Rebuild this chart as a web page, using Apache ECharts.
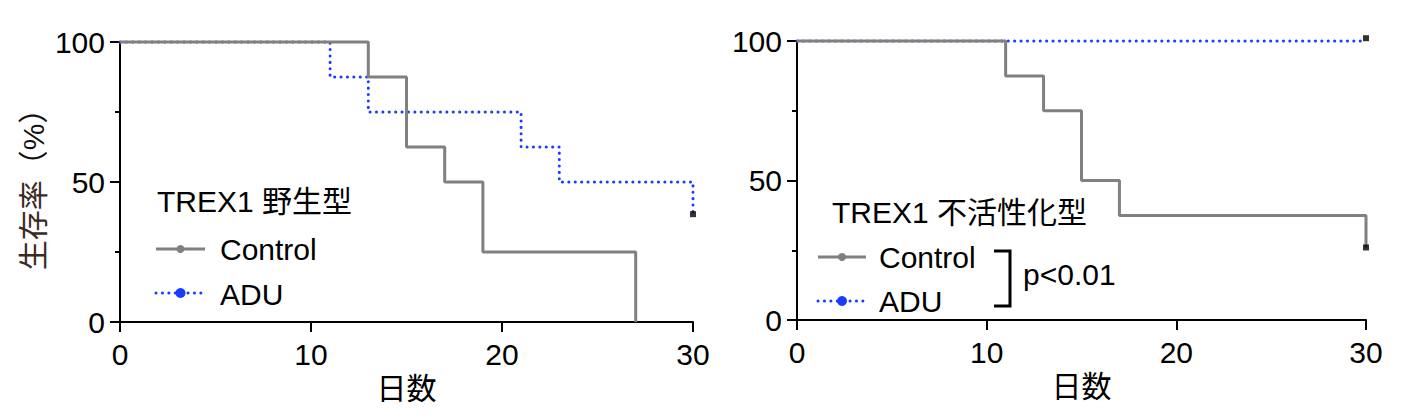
<!DOCTYPE html>
<html>
<head>
<meta charset="utf-8">
<script src="https://cdn.jsdelivr.net/npm/echarts@6/dist/echarts.min.js"></script>
<style>
html,body{margin:0;padding:0;background:#fff;}
#chart{width:1413px;height:418px;}
</style>
</head>
<body>
<div id="chart"></div>
<script>
// ---- data ----
const xTickValues = [0, 10, 20, 30];
const yTickValues = [0, 50, 100];

// Left panel: TREX1 野生型
const wtControlDays = [0, 13, 15, 17, 19, 27];
const wtControlSurv = [100, 87.5, 62.5, 50, 25, 0];
const wtAduDays = [0, 11, 13, 21, 23, 30];
const wtAduSurv = [100, 87.5, 75, 62.5, 50, 38];
const wtCensorDays = [30];
const wtCensorSurv = [38.5];

// Right panel: TREX1 不活性化型
const koControlDays = [0, 11, 13, 15, 17, 30];
const koControlSurv = [100, 87.5, 75, 50, 37.5, 26];
const koAduDays = [0, 30];
const koAduSurv = [100, 100];
const koCensorDays = [30, 30];
const koCensorSurv = [101, 26];

const leftTitle = 'TREX1 野生型';
const rightTitle = 'TREX1 不活性化型';
const groupNames = ['Control', 'ADU'];
const pText = 'p<0.01';
const xName = '日数';
const yNameMain = '生存率';
const yNameUnit = '（%）';

// ---- styles ----
const FONT = '"Liberation Sans","Noto Sans CJK JP",Arial,sans-serif';
const FS = 30;
const GRAY = '#808080';
const BLUE = '#1a3cff';
const DOTS = [0.1, 6.3];

function zip(xs, ys) { return xs.map((x, i) => [x, ys[i]]); }

function xAxisCfg(gridIndex) {
  return {
    gridIndex, type: 'value', min: 0, max: 30, interval: 10,
    name: xName, nameLocation: 'middle', nameGap: 46,
    nameTextStyle: { fontFamily: FONT, fontSize: FS, color: '#000' },
    axisLine: { show: true, lineStyle: { color: '#000', width: 2 } },
    axisTick: { show: true, length: 10, lineStyle: { color: '#000', width: 2 } },
    axisLabel: { fontFamily: FONT, fontSize: FS, color: '#000', margin: 17,
      formatter: v => xTickValues.includes(v) ? String(v) : '' },
    splitLine: { show: false }
  };
}
function yAxisCfg(gridIndex, withName) {
  return {
    gridIndex, type: 'value', min: 0, max: 100, interval: 50,
    name: withName ? '{a|' + yNameMain + '}{b|' + yNameUnit + '}' : '',
    nameLocation: 'middle', nameGap: 72, nameRotate: 90,
    nameTextStyle: { fontFamily: FONT, fontSize: FS, color: '#3b2a22',
      rich: {
        a: { fontFamily: FONT, fontSize: FS, color: '#3b2a22' },
        b: { fontFamily: FONT, fontSize: FS, color: '#111' }
      } },
    axisLine: { show: true, lineStyle: { color: '#000', width: 2 } },
    axisTick: { show: true, length: 10, lineStyle: { color: '#000', width: 2 } },
    minorTick: { show: true, splitNumber: 2, length: 5, lineStyle: { color: '#000', width: 2 } },
    axisLabel: { fontFamily: FONT, fontSize: FS, color: '#000', margin: 15,
      formatter: v => yTickValues.includes(v) ? String(v) : '' },
    splitLine: { show: false }, minorSplitLine: { show: false }
  };
}
function kmLine(name, gi, data, color, dotted, width) {
  return {
    name, type: 'line', xAxisIndex: gi, yAxisIndex: gi, data, step: 'end',
    showSymbol: false, symbol: 'none', clip: false, silent: true, animation: false,
    lineStyle: dotted ? { color, width, type: DOTS, cap: 'round' } : { color, width, type: 'solid' }
  };
}
function censor(gi, data) {
  return {
    type: 'scatter', xAxisIndex: gi, yAxisIndex: gi, data, symbol: 'rect', symbolSize: 6,
    itemStyle: { color: '#000' }, clip: false, silent: true, animation: false, z: 5
  };
}
function txt(x, y, text, size) {
  return { type: 'text', x, y, silent: true,
    style: { text, font: (size || FS) + 'px ' + FONT, fill: '#000', verticalAlign: 'middle', align: 'left' } };
}
function legendIcon(x1, x2, y, color, dotted, r) {
  return [
    { type: 'line', silent: true, shape: { x1, y1: y, x2, y2: y },
      style: dotted ? { stroke: color, lineWidth: 3, lineDash: DOTS, lineCap: 'round' }
                    : { stroke: color, lineWidth: 3 } },
    { type: 'circle', silent: true, shape: { cx: (x1 + x2) / 2, cy: y, r }, style: { fill: color } }
  ];
}

const chart = echarts.init(document.getElementById('chart'), null, { renderer: 'svg' });
chart.setOption({
  animation: false,
  backgroundColor: '#fff',
  grid: [
    { left: 120, top: 42, width: 573, height: 280 },
    { left: 797, top: 41, width: 569, height: 279 }
  ],
  xAxis: [xAxisCfg(0), xAxisCfg(1)],
  yAxis: [yAxisCfg(0, true), yAxisCfg(1, false)],
  series: [
    kmLine('ADU', 0, zip(wtAduDays, wtAduSurv), BLUE, true, 3),
    kmLine('Control', 0, zip(wtControlDays, wtControlSurv), GRAY, false, 3),
    censor(0, zip(wtCensorDays, wtCensorSurv)),
    kmLine('ADU', 1, zip(koAduDays, koAduSurv), BLUE, true, 3),
    kmLine('Control', 1, zip(koControlDays, koControlSurv), GRAY, false, 3),
    censor(1, zip(koCensorDays, koCensorSurv))
  ],
  graphic: [
    txt(157, 201, leftTitle),
    ...legendIcon(156, 205, 249, GRAY, false, 4),
    txt(220, 249, groupNames[0]),
    ...legendIcon(156, 205, 293, BLUE, true, 5),
    txt(220, 294, groupNames[1]),
    txt(832, 212, rightTitle),
    ...legendIcon(818, 866, 257, GRAY, false, 4),
    txt(879, 257, groupNames[0]),
    ...legendIcon(818, 866, 301, BLUE, true, 5),
    txt(879, 301, groupNames[1]),
    { type: 'polyline', silent: true,
      shape: { points: [[994, 251], [1010, 251], [1010, 306], [994, 306]] },
      style: { stroke: '#000', lineWidth: 3, fill: null } },
    txt(1023, 274, pText)
  ]
});
</script>
</body>
</html>
